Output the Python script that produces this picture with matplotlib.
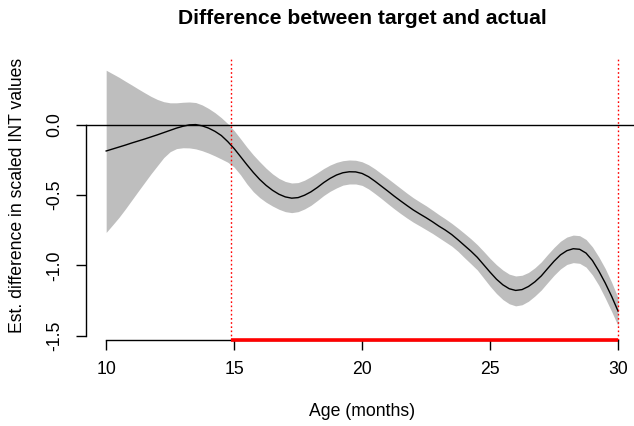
import matplotlib
matplotlib.use("Agg")
import matplotlib.pyplot as plt

age = [10.0, 10.25, 10.5, 10.75, 11.0, 11.25, 11.5, 11.75, 12.0, 12.25,
       12.5, 12.75, 13.0, 13.25, 13.5, 13.75, 14.0, 14.25, 14.5, 14.75,
       15.0, 15.25, 15.5, 15.75, 16.0, 16.25, 16.5, 16.75, 17.0, 17.25,
       17.5, 17.75, 18.0, 18.25, 18.5, 18.75, 19.0, 19.25, 19.5, 19.75,
       20.0, 20.25, 20.5, 20.75, 21.0, 21.25, 21.5, 21.75, 22.0, 22.25,
       22.5, 22.75, 23.0, 23.25, 23.5, 23.75, 24.0, 24.25, 24.5, 24.75,
       25.0, 25.25, 25.5, 25.75, 26.0, 26.25, 26.5, 26.75, 27.0, 27.25,
       27.5, 27.75, 28.0, 28.25, 28.5, 28.75, 29.0, 29.25, 29.5, 29.75, 30.0]
fit = [-0.185, -0.171, -0.157, -0.143, -0.128, -0.114, -0.100, -0.085, -0.070, -0.054,
       -0.038, -0.022, -0.009, 0.001, 0.003, -0.006, -0.022, -0.045, -0.075, -0.118,
       -0.168, -0.225, -0.283, -0.338, -0.388, -0.430, -0.465, -0.493, -0.512, -0.521,
       -0.517, -0.500, -0.476, -0.445, -0.410, -0.380, -0.356, -0.340, -0.333, -0.334,
       -0.345, -0.368, -0.400, -0.435, -0.470, -0.506, -0.540, -0.573, -0.605, -0.633,
       -0.660, -0.689, -0.720, -0.748, -0.780, -0.818, -0.858, -0.898, -0.942, -0.995,
       -1.048, -1.098, -1.138, -1.166, -1.178, -1.172, -1.150, -1.117, -1.075, -1.022,
       -0.970, -0.925, -0.895, -0.881, -0.885, -0.912, -0.965, -1.040, -1.125, -1.220, -1.325]
upper = [0.390, 0.365, 0.340, 0.312, 0.285, 0.257, 0.230, 0.204, 0.182, 0.166,
         0.158, 0.158, 0.162, 0.164, 0.160, 0.143, 0.118, 0.088, 0.052, 0.010,
         -0.040, -0.098, -0.158, -0.213, -0.262, -0.308, -0.348, -0.380, -0.402, -0.413,
         -0.410, -0.393, -0.368, -0.340, -0.310, -0.285, -0.266, -0.254, -0.249, -0.251,
         -0.262, -0.283, -0.312, -0.346, -0.380, -0.415, -0.450, -0.485, -0.518, -0.547,
         -0.575, -0.606, -0.638, -0.668, -0.700, -0.735, -0.772, -0.810, -0.852, -0.900,
         -0.950, -0.995, -1.033, -1.062, -1.075, -1.070, -1.050, -1.017, -0.975, -0.922,
         -0.872, -0.828, -0.798, -0.784, -0.788, -0.815, -0.868, -0.940, -1.022, -1.120, -1.230]
lower = [-0.765, -0.712, -0.658, -0.598, -0.535, -0.472, -0.410, -0.348, -0.290, -0.232,
         -0.190, -0.168, -0.162, -0.163, -0.170, -0.183, -0.200, -0.220, -0.242, -0.265,
         -0.300, -0.355, -0.420, -0.475, -0.517, -0.550, -0.577, -0.600, -0.617, -0.624,
         -0.617, -0.598, -0.572, -0.538, -0.502, -0.472, -0.448, -0.428, -0.420, -0.420,
         -0.430, -0.455, -0.488, -0.523, -0.560, -0.596, -0.630, -0.662, -0.692, -0.718,
         -0.745, -0.772, -0.802, -0.832, -0.862, -0.900, -0.945, -0.988, -1.032, -1.090,
         -1.148, -1.200, -1.243, -1.273, -1.288, -1.280, -1.255, -1.218, -1.175, -1.122,
         -1.070, -1.025, -0.993, -0.980, -0.985, -1.012, -1.068, -1.142, -1.232, -1.328, -1.430]

sig_start = 14.88
sig_end = 30.0
x_ticks = [10, 15, 20, 25, 30]
y_ticks = [0.0, -0.5, -1.0, -1.5]
y_tick_labels = ["0.0", "-0.5", "-1.0", "-1.5"]

title = "Difference between target and actual"
xlabel = "Age (months)"
ylabel = "Est. difference in scaled INT values"

plt.rcParams['font.family'] = ['Liberation Sans', 'DejaVu Sans']
FS = 12.7

W, H = 634, 426
fig = plt.figure(figsize=(W / 100, H / 100), dpi=100)
left_px, right_px, top_px, bot_px = 85.7, 638.5, 57.6, 340.0
ax = fig.add_axes([left_px / W, 1 - bot_px / H, (right_px - left_px) / W, (bot_px - top_px) / H])

xlo, xhi = 9.2, 30.8
ylo, yhi = -1.531, 0.48
ax.set_xlim(xlo, xhi)
ax.set_ylim(ylo, yhi)

ax.fill_between(age, lower, upper, color="#bebebe", linewidth=0, zorder=1)
ax.plot(age, fit, color="black", lw=1.0, zorder=3)
ax.axhline(0, color="black", lw=1.0, zorder=2)
for xv in [sig_start, sig_end]:
    ax.axvline(xv, color="red", lw=1.0, linestyle=(0, (1.2, 1.8)), zorder=4)
ax.plot([sig_start, sig_end], [ylo, ylo], color="red", lw=2.6, solid_capstyle="butt",
        zorder=6, clip_on=False)

for s in ["top", "right"]:
    ax.spines[s].set_visible(False)
ax.spines["left"].set_bounds(min(y_ticks), max(y_ticks))
ax.spines["bottom"].set_bounds(min(x_ticks), max(x_ticks))
ax.spines["left"].set_linewidth(1.0)
ax.spines["bottom"].set_linewidth(1.0)

ax.set_xticks(x_ticks)
ax.set_xticklabels([str(t) for t in x_ticks], fontsize=FS)
ax.set_yticks(y_ticks)
ax.set_yticklabels(y_tick_labels, fontsize=FS, rotation=90, va="center")
ax.tick_params(axis="both", direction="out", length=7.2, width=1.0, color="black")
ax.tick_params(axis="x", pad=8)
ax.tick_params(axis="y", pad=9)

fig.text(362 / W, 1 - 18 / H, title, ha="center", va="center", fontsize=FS * 1.2,
         fontweight="bold")
fig.text(362 / W, 1 - 411 / H, xlabel, ha="center", va="center", fontsize=FS)
fig.text(18 / W, 1 - 195 / H, ylabel, ha="center", va="center", fontsize=FS, rotation=90)

fig.savefig("out.png", dpi=100)
